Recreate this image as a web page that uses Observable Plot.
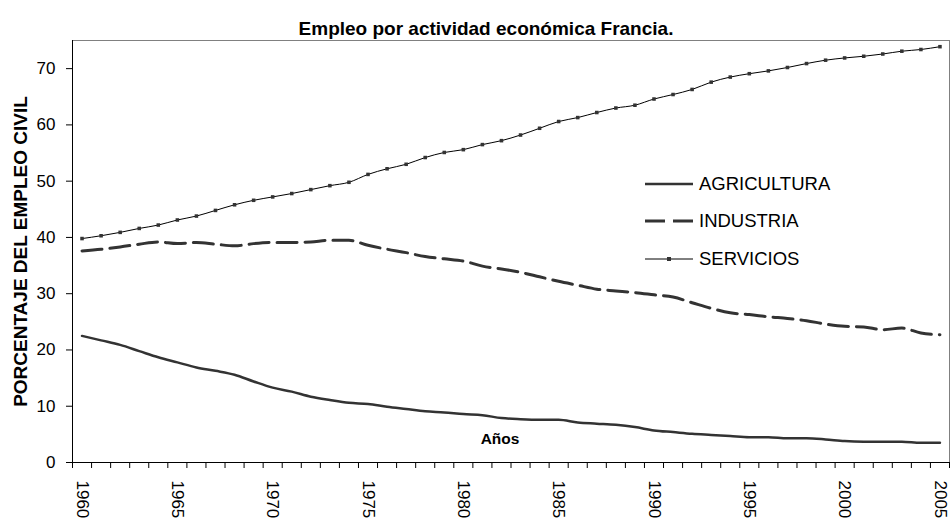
<!DOCTYPE html>
<html>
<head>
<meta charset="utf-8">
<script src="https://cdn.jsdelivr.net/npm/d3@7"></script>
<script src="https://cdn.jsdelivr.net/npm/@observablehq/plot@0.6"></script>
<style>
  html, body { margin: 0; padding: 0; background: #fff; }
  #wrap { position: relative; width: 950px; height: 523px; font-family: "Liberation Sans", Arial, sans-serif; }
  #legend { position: absolute; left: 645px; top: 165px; }
  .row { display: flex; align-items: center; height: 37.5px; font-size: 18.5px; color: #000; }
  .row svg { margin-right: 6px; }
</style>
</head>
<body>
<div id="wrap"></div>
<script>
const years = [1960,1961,1962,1963,1964,1965,1966,1967,1968,1969,1970,1971,1972,1973,1974,1975,1976,1977,1978,1979,1980,1981,1982,1983,1984,1985,1986,1987,1988,1989,1990,1991,1992,1993,1994,1995,1996,1997,1998,1999,2000,2001,2002,2003,2004,2005];
const agricultura = [22.5,21.7,20.9,19.8,18.7,17.8,16.9,16.3,15.6,14.4,13.3,12.6,11.7,11.1,10.6,10.4,9.9,9.5,9.1,8.9,8.6,8.4,7.9,7.7,7.6,7.6,7.1,6.9,6.7,6.3,5.7,5.4,5.1,4.9,4.7,4.5,4.5,4.3,4.3,4.1,3.8,3.7,3.7,3.7,3.5,3.5];
const industria = [37.6,37.9,38.3,38.8,39.2,38.9,39.1,38.8,38.5,38.9,39.1,39.1,39.2,39.5,39.5,38.6,37.9,37.3,36.6,36.2,35.8,34.9,34.4,33.8,33.0,32.2,31.5,30.8,30.5,30.2,29.8,29.4,28.4,27.4,26.6,26.3,25.9,25.6,25.2,24.6,24.2,24.1,23.6,23.9,23.0,22.7];
const servicios = [39.8,40.3,40.9,41.6,42.2,43.1,43.8,44.8,45.8,46.6,47.2,47.8,48.5,49.2,49.8,51.2,52.2,53.0,54.2,55.1,55.6,56.5,57.2,58.2,59.4,60.6,61.3,62.2,63.0,63.5,64.6,65.4,66.3,67.6,68.5,69.1,69.6,70.2,70.9,71.5,71.9,72.2,72.6,73.1,73.4,73.9];
const seriesNames = ["AGRICULTURA", "INDUSTRIA", "SERVICIOS"];
const yTicks = [0,10,20,30,40,50,60,70];
const xLabelYears = [1960,1965,1970,1975,1980,1985,1990,1995,2000,2005];
const titleText = "Empleo por actividad económica Francia.";
const yLabel = "PORCENTAJE DEL EMPLEO CIVIL";
const xLabel = "Años";

const agr = years.map((yr, i) => ({year: yr, value: agricultura[i]}));
const ind = years.map((yr, i) => ({year: yr, value: industria[i]}));
const ser = years.map((yr, i) => ({year: yr, value: servicios[i]}));
const boundaries = [years[0] - 0.5, ...years.map(y => y + 0.5)];

const chart = Plot.plot({
  width: 950,
  height: 523,
  marginLeft: 72,
  marginRight: 1,
  marginTop: 40,
  marginBottom: 61,
  style: {fontFamily: "'Liberation Sans', Arial, sans-serif", fontSize: "17px", color: "#000", background: "#fff", overflow: "visible"},
  x: {domain: [boundaries[0], boundaries[boundaries.length - 1]]},
  y: {domain: [0, 75]},
  marks: [
    Plot.frame({stroke: "#808080"}),
    Plot.axisY({ticks: yTicks, tickSize: 6, tickPadding: 11, label: null, fontSize: 17}),
    Plot.axisX({ticks: boundaries, tickSize: 6, tickFormat: () => "", label: null}),
    Plot.axisX({ticks: xLabelYears, tickSize: 0, tickPadding: 18, tickRotate: 90, tickFormat: d => String(d), label: null, fontSize: 17}),
    Plot.ruleY([0], {stroke: "#000"}),
    Plot.ruleX([boundaries[0]], {stroke: "#000"}),
    Plot.line(agr, {x: "year", y: "value", stroke: "#333", strokeWidth: 2.5, curve: "monotone-x"}),
    Plot.line(ind, {x: "year", y: "value", stroke: "#333", strokeWidth: 3, strokeDasharray: "20,8", curve: "monotone-x"}),
    Plot.line(ser, {x: "year", y: "value", stroke: "#000", strokeWidth: 1, curve: "monotone-x"}),
    Plot.dot(ser, {x: "year", y: "value", symbol: "square", r: 2, fill: "#333", stroke: "none"}),
    Plot.text([titleText], {frameAnchor: "top", dx: -25, dy: -19, fontSize: 19, fontWeight: "bold"}),
    Plot.text([yLabel], {frameAnchor: "left", textAnchor: "middle", dx: -52, rotate: -90, fontSize: 19, fontWeight: "bold"}),
    Plot.text([xLabel], {frameAnchor: "bottom", dx: -11, dy: -19, fontSize: 15.5, fontWeight: "bold"})
  ]
});

const wrap = document.getElementById("wrap");
wrap.appendChild(chart);

const legend = document.createElement("div");
legend.id = "legend";
const swatches = [
  '<svg width="48" height="10"><line x1="0" y1="5" x2="48" y2="5" stroke="#333" stroke-width="2.5"/></svg>',
  '<svg width="48" height="10"><line x1="0" y1="5" x2="48" y2="5" stroke="#333" stroke-width="3" stroke-dasharray="20,8"/></svg>',
  '<svg width="48" height="10"><line x1="0" y1="5" x2="48" y2="5" stroke="#000" stroke-width="1"/><rect x="22" y="3" width="4" height="4" fill="#333"/></svg>'
];
seriesNames.forEach((name, i) => {
  const row = document.createElement("div");
  row.className = "row";
  row.innerHTML = swatches[i] + "<span>" + name + "</span>";
  legend.appendChild(row);
});
wrap.appendChild(legend);
</script>
</body>
</html>
